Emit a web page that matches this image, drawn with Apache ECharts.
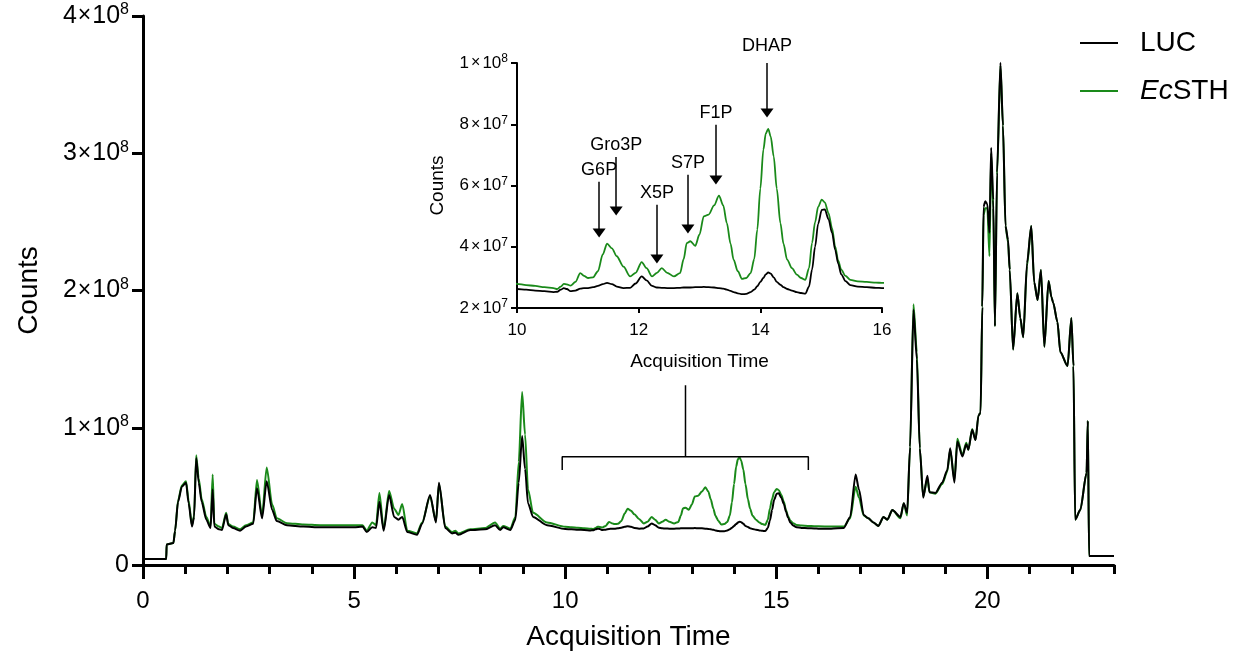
<!DOCTYPE html>
<html><head><meta charset="utf-8">
<script src="https://cdn.jsdelivr.net/npm/echarts@6/dist/echarts.min.js"></script>
<style>html,body{margin:0;padding:0;background:#fff}#c{width:1238px;height:660px}</style>
</head><body><div id="c"></div>
<script>
// values in units of 1e7 counts
const UNIT = 1e7;
// segment 1: 0 - 9.6 min
const time1 = [0.0,0.55,0.56,0.72,0.76,0.83,0.92,1.02,1.08,1.16,1.21,1.26,1.32,1.39,1.5,1.6,1.65,1.69,1.8,1.87,1.97,2.02,2.13,2.3,2.44,2.61,2.7,2.82,2.93,3.06,3.17,3.41,3.8,4.2,4.6,5.0,5.2,5.3,5.43,5.52,5.6,5.7,5.83,5.95,6.05,6.14,6.26,6.49,6.61,6.8,6.94,7.01,7.16,7.32,7.4,7.47,7.75,8.1,8.34,8.46,8.53,8.7,8.82,8.9,8.98,9.05,9.12,9.24,9.57];
const luc1 = [0.44,0.44,1.5,1.6,2.5,4.6,5.7,6.0,4.5,2.8,3.5,7.8,6.0,4.6,3.3,2.7,5.5,2.8,2.6,2.55,3.7,2.9,2.7,2.5,2.8,3.0,5.6,3.4,6.1,4.0,3.2,2.9,2.8,2.75,2.75,2.75,2.8,2.4,2.75,2.7,4.6,2.5,5.1,3.5,3.3,3.5,2.4,2.2,3.0,5.1,3.1,6.0,2.7,2.3,2.35,2.2,2.55,2.6,2.9,2.55,2.75,2.55,3.3,6.0,9.4,7.0,4.5,3.5,2.9];
const ecsth1 = [0.44,0.44,1.5,1.6,2.5,4.7,5.8,6.1,4.7,2.9,3.6,8.0,6.3,4.8,3.5,2.8,6.6,3.0,2.8,2.7,3.8,3.0,2.8,2.6,2.9,3.1,6.2,3.6,7.1,4.4,3.4,3.05,2.95,2.9,2.9,2.9,2.9,2.5,3.1,2.9,5.25,2.6,5.4,4.1,3.65,4.45,2.5,2.3,3.1,5.0,3.2,5.9,2.8,2.4,2.5,2.3,2.6,2.7,3.1,2.65,2.85,2.65,3.5,7.5,12.6,9.5,5.5,3.8,3.1];
// segment 2: 10 - 16 min (zoomed region)
const time2 = [10.0,10.15,10.3,10.45,10.6,10.66,10.72,10.77,10.82,10.88,10.96,11.04,11.1,11.17,11.25,11.33,11.41,11.48,11.56,11.64,11.75,11.86,11.95,12.05,12.13,12.22,12.3,12.38,12.47,12.58,12.68,12.74,12.79,12.85,12.93,13.0,13.07,13.15,13.24,13.32,13.39,13.45,13.51,13.56,13.63,13.7,13.77,13.84,13.9,13.95,14.0,14.05,14.09,14.13,14.17,14.22,14.27,14.33,14.38,14.44,14.52,14.6,14.67,14.74,14.8,14.85,14.9,14.95,15.01,15.06,15.12,15.18,15.23,15.28,15.33,15.4,15.48,15.6,15.75,15.9,16.0];
const luc2 = [2.62,2.6,2.57,2.55,2.52,2.53,2.6,2.65,2.62,2.55,2.57,2.63,2.65,2.65,2.68,2.72,2.78,2.82,2.78,2.7,2.65,2.66,2.8,3.03,2.9,2.72,2.67,2.66,2.65,2.65,2.66,2.67,2.67,2.67,2.68,2.68,2.69,2.68,2.67,2.65,2.63,2.6,2.56,2.52,2.48,2.45,2.46,2.52,2.6,2.71,2.85,2.98,3.1,3.16,3.12,3.0,2.85,2.76,2.68,2.62,2.57,2.52,2.49,2.47,2.7,3.25,4.0,4.75,5.2,5.22,4.9,4.45,3.9,3.45,3.1,2.88,2.75,2.7,2.68,2.66,2.65];
const ecsth2 = [2.79,2.75,2.72,2.68,2.65,2.62,2.7,2.79,2.77,2.73,2.85,3.14,3.05,2.98,3.0,3.2,3.75,4.1,3.95,3.69,3.35,3.03,3.15,3.5,3.3,3.03,3.15,3.3,3.15,3.03,3.14,3.6,4.12,4.18,4.03,4.4,4.99,5.05,5.35,5.67,5.35,4.77,4.1,3.58,3.2,2.95,2.98,3.14,3.6,4.56,5.9,7.17,7.7,7.85,7.6,6.95,5.9,4.77,4.1,3.58,3.3,3.09,2.98,2.92,3.3,4.12,4.8,5.3,5.54,5.45,5.1,4.6,4.01,3.55,3.25,3.05,2.92,2.87,2.85,2.83,2.82];
// segment 3: 16.3 - 23 min
const time3 = [16.3,16.6,16.75,16.88,16.96,17.07,17.18,17.3,17.42,17.54,17.63,17.75,17.94,18.02,18.1,18.17,18.25,18.33,18.4,18.48,18.58,18.63,18.77,18.93,19.05,19.12,19.22,19.29,19.41,19.5,19.55,19.64,19.72,19.79,19.84,19.88,19.91,19.95,20.0,20.05,20.09,20.14,20.18,20.23,20.31,20.37,20.43,20.49,20.53,20.61,20.71,20.78,20.85,20.94,21.04,21.11,21.19,21.27,21.35,21.45,21.52,21.56,21.66,21.73,21.9,21.99,22.04,22.08,22.2,22.35,22.38,22.41,23.0];
const luc3 = [2.65,2.7,3.5,6.6,5.5,3.65,3.4,3.1,2.85,3.5,3.3,4.0,3.5,4.5,3.8,8.6,18.6,15.0,8.5,4.9,6.5,5.3,5.25,6.0,6.9,8.5,6.0,9.0,7.9,8.8,8.4,9.85,9.1,10.9,11.1,18.8,26.1,26.5,26.3,24.2,30.4,26.6,17.4,28.6,36.6,32.0,24.7,23.7,21.5,15.7,19.8,18.0,16.6,22.0,24.7,20.6,19.3,21.5,15.9,20.7,19.5,19.1,17.7,15.5,14.5,18.0,14.5,3.3,4.0,6.7,10.5,0.65,0.65];
const ecsth3 = [2.8,2.8,3.4,5.7,4.9,3.6,3.4,3.1,2.85,3.5,3.3,4.0,3.4,4.5,3.6,8.6,19.0,15.5,8.5,5.0,6.3,5.3,5.2,5.9,6.8,8.4,6.2,9.2,8.0,8.9,8.4,9.9,9.1,10.9,11.1,18.8,25.5,26.0,26.0,22.5,30.0,26.0,17.4,28.4,36.4,32.0,24.7,23.5,21.5,15.7,19.8,18.0,16.6,21.8,24.7,20.6,19.3,21.5,15.9,20.7,19.5,19.1,17.7,15.5,14.5,18.0,14.5,3.3,4.0,6.7,10.5,0.65,0.65];

const time = time1.concat(time2, time3);
const luc = luc1.concat(luc2, luc3);
const ecsth = ecsth1.concat(ecsth2, ecsth3);

const mainXLabels = [0,5,10,15,20];
const mainXMinor = [1,2,3,4,6,7,8,9,11,12,13,14,16,17,18,19,21,22,23];
// inset annotations (x in minutes, y in 1e7 counts)
const arrowLabels = ['G6P','Gro3P','X5P','S7P','F1P','DHAP'];
const arrowX    = [11.35,11.63,12.3,12.81,13.27,14.11];
const arrowFrom = [6.12,6.93,5.37,6.35,7.98,10.0];
const arrowTo   = [4.45,5.17,3.6,4.58,6.18,8.37];
// bracket on main chart (x in minutes, y in 1e7 counts)
const bracketX = [9.93,9.93,15.76,15.76];
const bracketY = [6.93,7.88,7.88,6.93];
const stemX = [12.85,12.85];
const stemY = [7.88,13.1];

const GREEN = '#1a8a1a';
const FONT = 'Liberation Sans, Arial, sans-serif';

function sci(v){
  if (v === 0) return '0';
  const e = Math.floor(Math.log10(v) + 1e-9);
  const m = Math.round(v / Math.pow(10, e));
  return m + '{x|×}10{s|' + e + '}';
}
const pairs = arr => time.map((t,i)=>[t, arr[i]*UNIT]);

const chart = echarts.init(document.getElementById('c'), null, {renderer:'canvas'});
const axLine = w => ({show:true, lineStyle:{color:'#000', width:w}});
chart.setOption({
  animation:false,
  textStyle:{fontFamily:FONT, color:'#000'},
  grid:[
    {left:143, top:16, width:971, height:549},
    {left:517, top:63, width:365, height:245}
  ],
  legend:{
    orient:'vertical', left:1080, top:29, padding:0, itemWidth:38, itemHeight:2, icon:'rect',
    itemGap:20, selectedMode:false, data:['LUC','EcSTH'],
    formatter: n => n === 'EcSTH' ? '{i|Ec}STH' : n,
    textStyle:{fontSize:28, color:'#000', fontFamily:FONT, padding:[0,0,0,17],
      rich:{i:{fontStyle:'italic', fontSize:28, fontFamily:FONT, color:'#000'}}}
  },
  xAxis:[
    {gridIndex:0, type:'value', min:0, max:23, position:'bottom',
     axisLine:axLine(3), splitLine:{show:false},
     axisTick:{show:true, length:14, lineStyle:{width:3,color:'#000'}, customValues:mainXLabels},
     axisLabel:{fontSize:24, color:'#000', margin:24, customValues:mainXLabels},
     name:'Acquisition Time', nameLocation:'middle', nameGap:58,
     nameTextStyle:{fontSize:28, color:'#000'}},
    {gridIndex:0, type:'value', min:0, max:23, position:'bottom',
     axisLine:{show:false}, splitLine:{show:false},
     axisTick:{show:true, length:9, lineStyle:{width:3,color:'#000'}, customValues:mainXMinor},
     axisLabel:{show:false}},
    {gridIndex:1, type:'value', min:10, max:16, interval:2,
     axisLine:axLine(2), splitLine:{show:false},
     axisTick:{show:true, length:5, lineStyle:{width:2,color:'#000'}},
     axisLabel:{fontSize:17, color:'#000', margin:14},
     name:'Acquisition Time', nameLocation:'middle', nameGap:44,
     nameTextStyle:{fontSize:19, color:'#000'}}
  ],
  yAxis:[
    {gridIndex:0, type:'value', min:0, max:4e8, interval:1e8,
     axisLine:axLine(3), splitLine:{show:false},
     axisTick:{show:true, length:11, lineStyle:{width:3,color:'#000'}},
     axisLabel:{fontSize:25, color:'#000', margin:14, formatter:sci,
       rich:{x:{fontSize:23, color:'#000', padding:[0,1,0,1]}, s:{fontSize:16, color:'#000', verticalAlign:'bottom', padding:[0,0,12,0]}}},
     name:'Counts', nameLocation:'middle', nameGap:100,
     nameTextStyle:{fontSize:28, color:'#000'}},
    {gridIndex:1, type:'value', min:2e7, max:1e8, interval:2e7,
     axisLine:axLine(2), splitLine:{show:false},
     axisTick:{show:true, length:6, lineStyle:{width:2,color:'#000'}},
     axisLabel:{fontSize:17, color:'#000', margin:9, formatter:sci,
       rich:{x:{fontSize:16, color:'#000', padding:[0,2,0,2]}, s:{fontSize:12, color:'#000', verticalAlign:'bottom', padding:[0,0,8,0]}}},
     name:'Counts', nameLocation:'middle', nameGap:70,
     nameTextStyle:{fontSize:19, color:'#000'}}
  ],
  series:[
    {name:'EcSTH', type:'line', xAxisIndex:0, yAxisIndex:0, data:pairs(ecsth), symbol:'none',
     smooth:0.25, smoothMonotone:'x',
     color:GREEN, lineStyle:{color:GREEN, width:2}, silent:true},
    {name:'LUC', type:'line', xAxisIndex:0, yAxisIndex:0, data:pairs(luc), symbol:'none',
     smooth:0.25, smoothMonotone:'x',
     color:'#000', lineStyle:{color:'#000', width:2}, silent:true},
    {name:'EcSTH', type:'line', xAxisIndex:2, yAxisIndex:1, data:pairs(ecsth), symbol:'none',
     smooth:0.3, smoothMonotone:'x',
     color:GREEN, lineStyle:{color:GREEN, width:1.8}, silent:true},
    {name:'LUC', type:'line', xAxisIndex:2, yAxisIndex:1, data:pairs(luc), symbol:'none',
     smooth:0.3, smoothMonotone:'x',
     color:'#000', lineStyle:{color:'#000', width:1.8}, silent:true},
    {name:'bracket', type:'line', xAxisIndex:0, yAxisIndex:0, symbol:'none', silent:true,
     data:bracketX.map((x,i)=>[x, bracketY[i]*UNIT]), lineStyle:{color:'#000', width:1.5}},
    {name:'stem', type:'line', xAxisIndex:0, yAxisIndex:0, symbol:'none', silent:true,
     data:stemX.map((x,i)=>[x, stemY[i]*UNIT]), lineStyle:{color:'#000', width:1.5}},
    {name:'arrows', type:'line', xAxisIndex:2, yAxisIndex:1, data:[], clip:false, silent:true,
     markLine:{silent:true, symbol:['none','triangle'], symbolSize:[13,9], animation:false,
       lineStyle:{color:'#000', width:1.5, type:'solid'},
       label:{show:true, position:'start', formatter:'{b}', fontSize:18, color:'#000', fontFamily:FONT, distance:3},
       data:arrowLabels.map((n,i)=>[
         {name:n, coord:[arrowX[i], arrowFrom[i]*UNIT], label:{distance: arrowFrom[i] >= 10 ? 8 : 3}},
         {coord:[arrowX[i], arrowTo[i]*UNIT]}])}}
  ]
});
</script></body></html>
